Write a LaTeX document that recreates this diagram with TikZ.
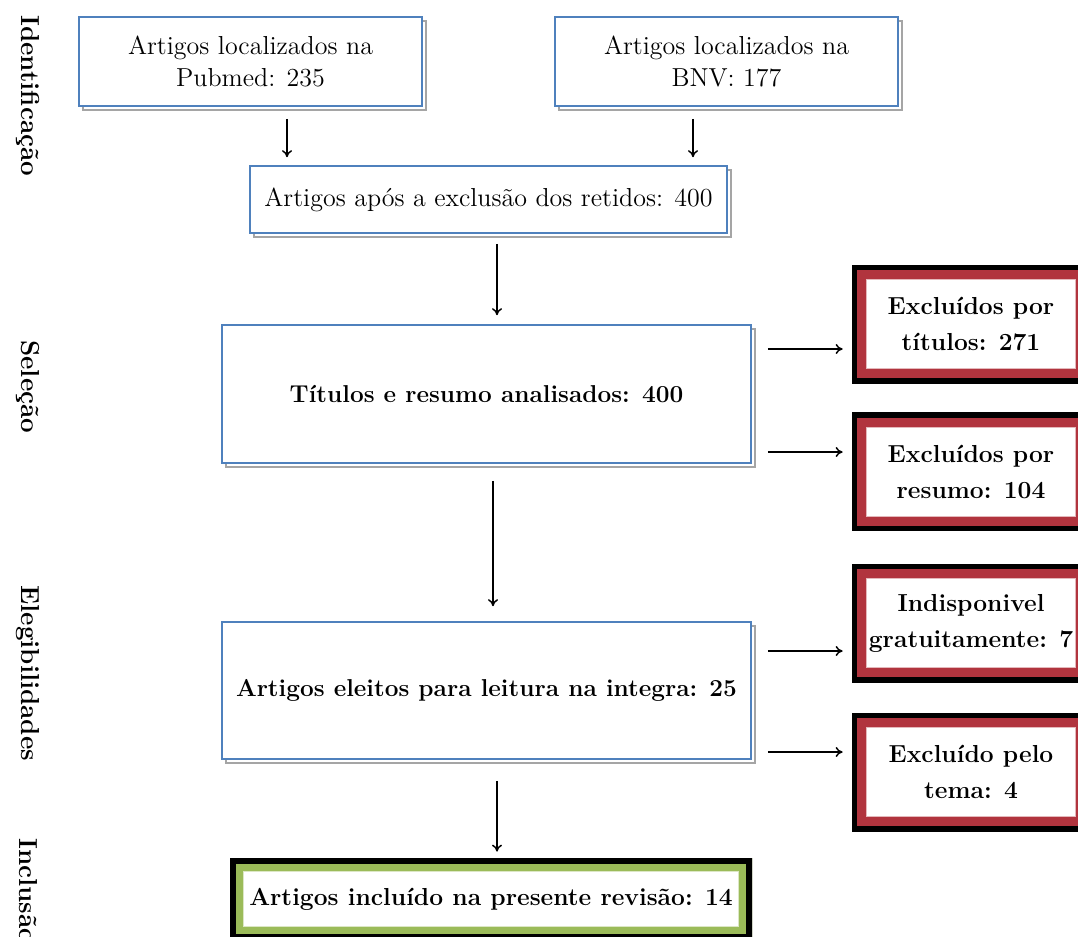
\documentclass[tikz,border=0pt]{standalone}
\usetikzlibrary{arrows.meta}
\definecolor{boxblue}{RGB}{79,129,189}
\definecolor{exred}{RGB}{177,52,62}
\definecolor{incgreen}{RGB}{155,187,89}
\definecolor{shadowgray}{RGB}{165,165,165}
\tikzset{
  idbox/.style={draw=boxblue, fill=white, line width=0.8pt, align=center,
    inner sep=0pt, font=\fontsize{13}{16}\selectfont,
    preaction={draw=shadowgray, line width=0.7pt,
      transform canvas={xshift=2pt,yshift=-2pt}}},
  boldtext/.style={font=\bfseries\fontsize{12.2}{16}\selectfont},
  % thick black frame with a coloured band inside
  framed/.style n args={3}{fill=white, align=center, inner sep=0pt,
    path picture={
      \draw[#1!35, line width=#2+1pt] (path picture bounding box.south west)
        rectangle (path picture bounding box.north east);
      \draw[#1, line width=#2] (path picture bounding box.south west)
        rectangle (path picture bounding box.north east);
      \draw[black, line width=#3] (path picture bounding box.south west)
        rectangle (path picture bounding box.north east);}},
  exbox/.style={framed={exred}{14pt}{5pt}, minimum width=119pt, minimum height=59pt,
    font=\bfseries\fontsize{12.3}{18}\selectfont},
  incbox/.style={framed={incgreen}{13pt}{6pt}, font=\bfseries\fontsize{12.3}{16}\selectfont},
  side/.style={font=\bfseries\fontsize{13}{15}\selectfont, inner sep=0pt,
    anchor=west, rotate=-90},
  arr/.style={->, line width=0.75pt}
}
\begin{document}
\begin{tikzpicture}[x=0.5pt,y=-0.5pt,>={To[length=3.5pt,width=5pt]}]
\useasboundingbox (0,0) rectangle (1078,937);
% ---- fases ----
\node[side] (lid) at (28,15) {Identificação};
\node[side] (lsel) at (28,340) {Seleção};
\node[side] (lele) at (28,585) {Elegibilidades};
\node[side] (linc) at (28,838) {Inclusão};
% ---- identificacao ----
\node[idbox, minimum width=171.5pt, minimum height=44.5pt] (pub) at (250.5,61.5)
  {Artigos localizados na\\Pubmed: 235};
\node[idbox, minimum width=171.5pt, minimum height=44.5pt] (bnv) at (726.5,61.5)
  {Artigos localizados na\\BNV: 177};
\node[idbox, minimum width=238.5pt, minimum height=33.5pt] (ret) at (488.5,199.5)
  {Artigos após a exclusão dos retidos: 400};
\draw[arr, shorten <=6pt, shorten >=4pt] ([xshift=18.25pt]pub.south) -- ([xshift=18.25pt]pub.south |- ret.north);
\draw[arr, shorten <=6pt, shorten >=4pt] ([xshift=-16.75pt]bnv.south) -- ([xshift=-16.75pt]bnv.south |- ret.north);
% ---- selecao ----
\node[idbox, boldtext, minimum width=264.5pt, minimum height=69pt] (tit) at (486.5,394)
  {Títulos e resumo analisados: 400};
\draw[arr, shorten <=5pt, shorten >=4.5pt] ([xshift=4.25pt]ret.south) -- ([xshift=4.25pt]ret.south |- tit.north);
\node[exbox] (ex1) at (971,324) {Excluídos por\\títulos: 271};
\node[exbox] (ex2) at (971,471.5) {Excluídos por\\resumo: 104};
\draw[arr, shorten <=8pt, shorten >=4.5pt] ([yshift=22.5pt]tit.east) -- ([yshift=22.5pt]tit.east -| ex1.west);
\draw[arr, shorten <=8pt, shorten >=4.5pt] ([yshift=-29pt]tit.east) -- ([yshift=-29pt]tit.east -| ex2.west);
% ---- elegibilidade ----
\node[idbox, boldtext, minimum width=264.5pt, minimum height=68.5pt] (ele) at (486.5,690.5)
  {Artigos eleitos para leitura na integra: 25};
\draw[arr, shorten <=8.5pt, shorten >=7.5pt] ([xshift=3.25pt]tit.south) -- ([xshift=3.25pt]tit.south |- ele.north);
\node[exbox] (ex3) at (971,623) {Indisponivel\\gratuitamente: 7};
\node[exbox] (ex4) at (971,772) {Excluído pelo\\tema: 4};
\draw[arr, shorten <=8pt, shorten >=4.5pt] ([yshift=19.75pt]ele.east) -- ([yshift=19.75pt]ele.east -| ex3.west);
\draw[arr, shorten <=8pt, shorten >=4.5pt] ([yshift=-30.75pt]ele.east) -- ([yshift=-30.75pt]ele.east -| ex4.west);
% ---- inclusao ----
\node[incbox, minimum width=261pt, minimum height=41pt] (inc) at (491,899)
  {Artigos incluído na presente revisão: 14};
\draw[arr, shorten <=10.5pt, shorten >=3pt] ([xshift=5.25pt]ele.south) -- ([xshift=5.25pt]ele.south |- inc.north);
\end{tikzpicture}
\end{document}
